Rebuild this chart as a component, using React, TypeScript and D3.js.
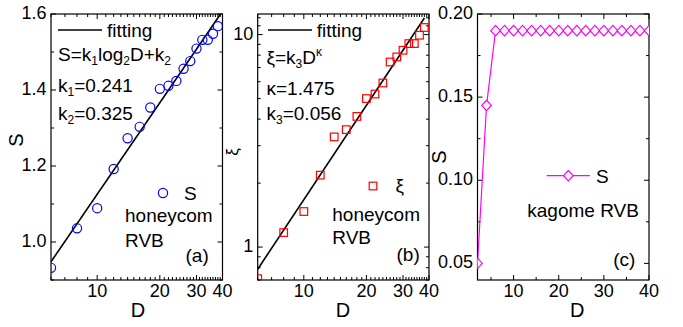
import React from 'react';
import * as d3 from 'd3';

// ---------- data ----------
const dA = [6, 8, 10, 12, 14, 16, 18, 20, 22, 24, 26, 28, 30, 32, 34, 36, 38];
const sA = [0.932, 1.036, 1.089, 1.192, 1.273, 1.303, 1.354, 1.403, 1.411, 1.424, 1.456, 1.476, 1.509, 1.532, 1.532, 1.548, 1.568];
const dB = [6, 8, 10, 12, 14, 16, 18, 20, 22, 24, 26, 28, 30, 32, 34, 36, 38];
const xiB = [0.71, 1.17, 1.47, 2.18, 3.3, 3.57, 4.12, 5.0, 5.25, 5.92, 7.43, 7.85, 8.44, 9.07, 9.07, 9.93, 10.8];
const dC = [2, 4, 6, 8, 10, 12, 14, 16, 18, 20, 22, 24, 26, 28, 30, 32, 34, 36, 38, 40];
const sC = [0.05, 0.145, 0.19, 0.19, 0.19, 0.19, 0.19, 0.19, 0.19, 0.19, 0.19, 0.19, 0.19, 0.19, 0.19, 0.19, 0.19, 0.19, 0.19, 0.19];
const fitA = { k1: 0.241, k2: 0.325, dFrom: 6, dTo: 39 };
const fitB = { k3: 0.056, kappa: 1.475, dFrom: 6, dTo: 38 };

const xLogMajor = [10, 20, 30, 40];
const xLogMinor = [6, 7, 8, 9, 11, 12, 13, 14, 15, 16, 17, 18, 19, 21, 22, 23, 24, 25, 26, 27, 28, 29, 31, 32, 33, 34, 35, 36, 37, 38, 39];
const yAMajor = [1.0, 1.2, 1.4, 1.6];
const yAMinor = [0.9, 1.1, 1.3, 1.5];
const yBMajor = [1, 10];
const yBMinor = [0.7, 0.8, 0.9, 2, 3, 4, 5, 6, 7, 8, 9, 11, 12];
const xCMajor = [10, 20, 30, 40];
const xCMinor = [5, 15, 25, 35];
const yCMajor = [0.05, 0.1, 0.15, 0.2];
const yCMinor = [0.075, 0.125, 0.175];

const FONT = "'Liberation Sans', Arial, Helvetica, sans-serif";
const TOP = 14, BOT = 280;

function Frame({ xs, ys, xMaj, xMin, yMaj, yMin, yFmt, xFmt, id }: any) {
  const [l, r] = xs.range();
  const [b, t] = ys.range();
  const M = 5, m = 3;
  const els: any[] = [];
  xMaj.forEach((v: number, i: number) => {
    const x = xs(v);
    els.push(<line key={'xM' + i} x1={x} x2={x} y1={b} y2={b - M} />);
    els.push(<line key={'xMt' + i} x1={x} x2={x} y1={t} y2={t + M} />);
  });
  xMin.forEach((v: number, i: number) => {
    const x = xs(v);
    els.push(<line key={'xm' + i} x1={x} x2={x} y1={b} y2={b - m} />);
    els.push(<line key={'xmt' + i} x1={x} x2={x} y1={t} y2={t + m} />);
  });
  yMaj.forEach((v: number, i: number) => {
    const y = ys(v);
    els.push(<line key={'yM' + i} x1={l} x2={l + M} y1={y} y2={y} />);
    els.push(<line key={'yMr' + i} x1={r} x2={r - M} y1={y} y2={y} />);
  });
  yMin.forEach((v: number, i: number) => {
    const y = ys(v);
    els.push(<line key={'ym' + i} x1={l} x2={l + m} y1={y} y2={y} />);
    els.push(<line key={'ymr' + i} x1={r} x2={r - m} y1={y} y2={y} />);
  });
  return (
    <g>
      <defs>
        <clipPath id={id}>
          <rect x={l} y={t} width={r - l} height={b - t} />
        </clipPath>
      </defs>
      <g stroke="#000" strokeWidth={1}>{els}</g>
      <rect x={l} y={t} width={r - l} height={b - t} fill="none" stroke="#000" strokeWidth={1.2} />
      <g fontFamily={FONT} fontSize={18} fill="#000">
        {yMaj.map((v: number, i: number) => (
          <text key={'yl' + i} x={l - 4.5} y={ys(v) + 5} textAnchor="end">{yFmt(v)}</text>
        ))}
        {xMaj.map((v: number, i: number) => (
          <text key={'xl' + i} x={xs(v)} y={297} textAnchor="middle">{xFmt(v)}</text>
        ))}
      </g>
    </g>
  );
}

function diamondPath(cx: number, cy: number, hw: number, hh: number) {
  return `M${cx},${cy - hh}L${cx + hw},${cy}L${cx},${cy + hh}L${cx - hw},${cy}Z`;
}

export default function App() {
  // panel (a)
  const xa = d3.scaleLog().domain([6, 40]).range([51, 222.5]);
  const ya = d3.scaleLinear().domain([0.9, 1.6]).range([BOT, TOP]);
  // panel (b)
  const xb = d3.scaleLog().domain([6, 40]).range([257.7, 429]);
  const yb = d3.scaleLog().domain([0.7, 12.5]).range([BOT, TOP]);
  // panel (c)
  const xc = d3.scaleLinear().domain([2, 40]).range([477.5, 649]);
  const yc = d3.scaleLinear().domain([0.04, 0.2]).range([BOT, TOP]);

  const fitALine = d3.line<number>().x((d) => xa(d)).y((d) => ya(fitA.k1 * Math.log2(d) + fitA.k2));
  const fitBLine = d3.line<number>().x((d) => xb(d)).y((d) => yb(fitB.k3 * Math.pow(d, fitB.kappa)));
  const cLine = d3.line<number>().x((d, i) => xc(dC[i])).y((d) => yc(d));

  const txt = { fontFamily: FONT, fontSize: 19, fill: '#000' } as any;
  const sub = { fontSize: 12 } as any;

  return (
    <svg width={683} height={327} style={{ position: 'absolute', left: 0, top: 0, background: '#fff' }}>
      <rect x={0} y={0} width={683} height={327} fill="#fff" />
      {/* ---------- panel (a) ---------- */}
      <Frame id="clipA" xs={xa} ys={ya} xMaj={xLogMajor} xMin={xLogMinor} yMaj={yAMajor} yMin={yAMinor}
        yFmt={(v: number) => v.toFixed(1)} xFmt={(v: number) => String(v)} />
      <g clipPath="url(#clipA)">
        <path d={fitALine([fitA.dFrom, fitA.dTo]) || ''} stroke="#000" strokeWidth={1.6} fill="none" />
        {dA.map((d, i) => (
          <circle key={i} cx={xa(d)} cy={ya(sA[i])} r={4.6} fill="none" stroke="#0000ff" strokeWidth={1.2} />
        ))}
      </g>
      <line x1={58} x2={102} y1={30} y2={30} stroke="#000" strokeWidth={1.6} />
      <text {...txt} x={107} y={37}>fitting</text>
      <text {...txt} x={58} y={61}>S=k<tspan {...sub} dy={4}>1</tspan><tspan dy={-4}>log</tspan><tspan {...sub} dy={4}>2</tspan><tspan dy={-4}>D+k</tspan><tspan {...sub} dy={4}>2</tspan></text>
      <text {...txt} x={58} y={91.5}>k<tspan {...sub} dy={4}>1</tspan><tspan dy={-4}>=0.241</tspan></text>
      <text {...txt} x={58} y={119.5}>k<tspan {...sub} dy={4}>2</tspan><tspan dy={-4}>=0.325</tspan></text>
      <circle cx={163} cy={193} r={4.6} fill="none" stroke="#0000ff" strokeWidth={1.2} />
      <text {...txt} x={184} y={200}>S</text>
      <text {...txt} x={125} y={222}>honeycom</text>
      <text {...txt} x={125} y={246.5}>RVB</text>
      <text {...txt} x={185.5} y={262}>(a)</text>
      <text {...txt} fontSize={20} transform="translate(23,140) rotate(-90)" textAnchor="middle">S</text>
      <text {...txt} fontSize={20} x={138} y={316.5} textAnchor="middle">D</text>

      {/* ---------- panel (b) ---------- */}
      <Frame id="clipB" xs={xb} ys={yb} xMaj={xLogMajor} xMin={xLogMinor} yMaj={yBMajor} yMin={yBMinor}
        yFmt={(v: number) => String(v)} xFmt={(v: number) => String(v)} />
      <g clipPath="url(#clipB)">
        <path d={fitBLine([fitB.dFrom, fitB.dTo]) || ''} stroke="#000" strokeWidth={1.6} fill="none" />
        {dB.map((d, i) => (
          <rect key={i} x={xb(d) - 3.8} y={yb(xiB[i]) - 3.8} width={7.6} height={7.6} fill="none" stroke="#ff0000" strokeWidth={1.2} />
        ))}
      </g>
      <line x1={268} x2={312} y1={30} y2={30} stroke="#000" strokeWidth={1.6} />
      <text {...txt} x={316.7} y={37}>fitting</text>
      <text {...txt} x={266.5} y={64}>ξ=k<tspan {...sub} dy={4}>3</tspan><tspan dy={-4}>D</tspan><tspan {...sub} dy={-8}>κ</tspan></text>
      <text {...txt} x={266.5} y={95}>κ=1.475</text>
      <text {...txt} x={266.5} y={119.5}>k<tspan {...sub} dy={4}>3</tspan><tspan dy={-4}>=0.056</tspan></text>
      <rect x={373 - 3.8} y={186 - 3.8} width={7.6} height={7.6} fill="none" stroke="#ff0000" strokeWidth={1.2} />
      <text {...txt} x={395.5} y={192}>ξ</text>
      <text {...txt} x={332.3} y={220.5}>honeycom</text>
      <text {...txt} x={332.3} y={244}>RVB</text>
      <text {...txt} x={396.5} y={261}>(b)</text>
      <text {...txt} fontSize={17} transform="translate(238,152) rotate(-90)" textAnchor="middle">ξ</text>
      <text {...txt} fontSize={20} x={343} y={316.5} textAnchor="middle">D</text>

      {/* ---------- panel (c) ---------- */}
      <Frame id="clipC" xs={xc} ys={yc} xMaj={xCMajor} xMin={xCMinor} yMaj={yCMajor} yMin={yCMinor}
        yFmt={(v: number) => v.toFixed(2)} xFmt={(v: number) => String(v)} />
      <g clipPath="url(#clipC)">
        <path d={cLine(sC) || ''} stroke="#ff00ff" strokeWidth={1.2} fill="none" />
        {dC.map((d, i) => (
          <path key={i} d={diamondPath(xc(d), yc(sC[i]), 4.8, 5.2)} fill="#fff" stroke="#ff00ff" strokeWidth={1.2} />
        ))}
      </g>
      <line x1={546.7} x2={590} y1={175.7} y2={175.7} stroke="#ff00ff" strokeWidth={1.2} />
      <path d={diamondPath(568.3, 175.7, 4.8, 5.2)} fill="#fff" stroke="#ff00ff" strokeWidth={1.2} />
      <text {...txt} x={596} y={182.5}>S</text>
      <text {...txt} x={527.3} y={216.5}>kagome RVB</text>
      <text {...txt} x={613.3} y={265.5}>(c)</text>
      <text {...txt} fontSize={20} transform="translate(446,157) rotate(-90)" textAnchor="middle">S</text>
      <text {...txt} fontSize={20} x={577.3} y={316.5} textAnchor="middle">D</text>
    </svg>
  );
}
